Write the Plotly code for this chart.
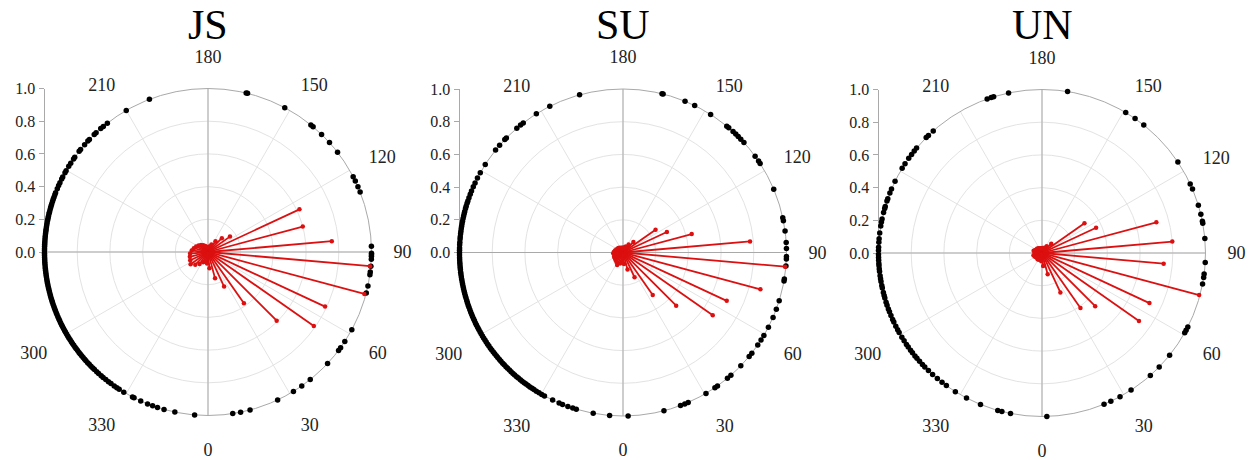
import plotly.graph_objects as go

# ---------------- data ----------------
PANELS = ["JS", "SU", "UN"]

ANG_TICKVALS = [0, 30, 60, 90, 120, 150, 180, 210, 240, 270, 300, 330]
ANG_TICKTEXT = ["0", "30", "60", "90", "120", "150", "180", "210", "", "", "300", "330"]
RAD_TICKVALS = [0.0, 0.2, 0.4, 0.6, 0.8, 1.0]
RAD_TICKTEXT = ["0.0", "0.2", "0.4", "0.6", "0.8", "1.0"]

# direction of each mean vector (deg)
VEC_THETA = [5, 15, 25, 35, 45, 55, 65, 75, 85, 95, 105, 115,
             125, 135, 145, 155, 165, 175, 185, 195, 205, 215, 225, 235,
             245, 255, 265, 275, 285, 295, 305, 315, 325, 335, 345, 355]

JS_VEC_R = [0.10, 0.167, 0.233, 0.383, 0.594, 0.79, 0.79, 0.99, 0.995, 0.76, 0.60, 0.617,
            0.164, 0.12, 0.08, 0.05, 0.035, 0.03, 0.03, 0.03, 0.04, 0.05, 0.06, 0.07,
            0.08, 0.09, 0.10, 0.11, 0.115, 0.12, 0.13, 0.11, 0.09, 0.07, 0.06, 0.07]

SU_VEC_R = [0.07, 0.107, 0.167, 0.317, 0.46, 0.67, 0.70, 0.87, 0.995, 0.78, 0.435, 0.296,
            0.243, 0.09, 0.06, 0.04, 0.03, 0.03, 0.025, 0.03, 0.03, 0.035, 0.04, 0.04,
            0.045, 0.05, 0.055, 0.06, 0.055, 0.06, 0.06, 0.065, 0.07, 0.085, 0.07, 0.06]

UN_VEC_R = [0.08, 0.134, 0.266, 0.41, 0.46, 0.724, 0.725, 0.995, 0.747, 0.80, 0.724, 0.365,
            0.317, 0.08, 0.05, 0.035, 0.03, 0.03, 0.025, 0.03, 0.03, 0.035, 0.04, 0.04,
            0.045, 0.053, 0.045, 0.043, 0.054, 0.05, 0.045, 0.04, 0.047, 0.045, 0.04, 0.05]

# phase angles of individual units (deg), all at r = 1
JS_DOTS = [8.7, 11.5, 14.9, 25.2, 31.5, 35.0, 38.7, 47.0, 53.0, 54.2, 56.8, 61.6,
           75.5, 78.0, 82.0, 83.0, 85.0, 87.5, 88.5, 89.0, 89.6, 92.0, 111.5, 113.5,
           115.7, 117.4, 127.6, 132.0, 136.0, 140.0, 141.0, 152.0, 166.0, 166.5, 201.0, 210.0,
           218.0, 219.8, 221.0, 223.2, 224.1, 226.5, 227.3, 229.0, 231.2, 232.0, 234.6, 235.3,
           237.1, 238.4, 240.2, 241.0, 242.7, 243.5, 244.9, 246.0, 247.2, 248.8, 249.5, 250.4,
           251.2, 252.0, 252.9, 253.6, 254.3, 255.1, 255.9, 256.6, 257.4, 258.1, 258.8, 259.7,
           260.5, 261.2, 262.0, 262.7, 263.5, 264.3, 265.0, 265.8, 266.6, 267.3, 268.0, 268.9,
           269.6, 270.4, 271.1, 271.9, 272.6, 273.4, 274.1, 274.9, 275.7, 276.4, 277.2, 278.0,
           278.7, 279.5, 280.3, 281.0, 281.8, 282.6, 283.3, 284.1, 284.9, 285.6, 286.4, 287.2,
           287.9, 288.7, 289.5, 290.2, 291.0, 291.8, 292.5, 293.3, 294.1, 294.8, 295.6, 296.4,
           297.1, 297.9, 298.7, 299.4, 300.2, 301.0, 301.7, 302.5, 303.3, 304.0, 304.8, 305.6,
           306.3, 307.1, 307.9, 308.6, 309.4, 310.2, 311.0, 311.7, 312.6, 313.4, 314.3, 315.2,
           316.0, 317.1, 318.0, 319.2, 320.1, 321.3, 322.5, 323.6, 325.0, 326.1, 327.1, 329.0,
           332.5, 333.1, 335.7, 338.3, 340.2, 342.0, 344.4, 348.3, 355.3]

SU_DOTS = [1.8, 14.5, 20.6, 22.2, 23.5, 30.5, 34.2, 35.3, 39.7, 41.3, 46.1, 50.5,
           52.0, 55.5, 57.6, 59.5, 62.8, 66.6, 69.7, 72.8, 80.0, 80.7, 85.3, 87.7,
           88.6, 91.4, 93.5, 97.6, 101.2, 102.3, 112.8, 123.0, 124.0, 126.1, 132.3, 133.9,
           135.2, 136.4, 137.7, 139.7, 140.6, 147.6, 154.0, 157.7, 165.8, 166.2, 195.4, 206.6,
           212.0, 217.6, 218.8, 220.5, 225.5, 226.3, 229.0, 231.2, 237.4, 240.8, 242.9, 244.8,
           246.3, 247.9, 249.1, 250.4, 251.6, 252.5, 253.6, 254.4, 255.5, 256.2, 257.1, 258.0,
           259.0, 259.9, 260.8, 261.6, 262.5, 263.4, 264.5, 265.3, 266.4, 267.3, 268.4, 269.2,
           270.1, 270.9, 271.8, 272.6, 273.5, 274.3, 275.2, 276.0, 276.9, 277.7, 278.6, 279.4,
           280.3, 281.1, 282.0, 282.8, 283.7, 284.5, 285.4, 286.2, 287.1, 287.9, 288.8, 289.6,
           290.5, 291.3, 292.2, 293.0, 293.9, 294.7, 295.6, 296.4, 297.3, 298.1, 299.0, 299.8,
           300.7, 301.5, 302.4, 303.2, 304.1, 304.9, 305.8, 306.6, 307.5, 308.3, 309.2, 310.0,
           310.9, 311.7, 312.6, 313.4, 314.3, 315.1, 316.0, 316.8, 317.7, 318.5, 319.4, 320.2,
           321.1, 321.9, 322.8, 323.6, 324.5, 325.3, 326.2, 327.0, 328.0, 329.1, 330.2, 331.3,
           334.5, 337.0, 338.3, 340.3, 342.1, 343.4, 349.5, 355.3]

UN_DOTS = [1.7, 22.3, 24.9, 28.5, 33.0, 41.5, 45.8, 51.3, 60.8, 61.8, 63.1, 79.1,
           81.4, 82.6, 86.7, 95.1, 100.5, 101.2, 103.7, 107.0, 113.0, 115.0, 123.8, 141.5,
           145.3, 149.2, 171.0, 191.8, 197.2, 198.1, 199.6, 221.7, 224.0, 225.1, 230.1, 231.4,
           232.9, 234.6, 236.9, 238.8, 244.0, 247.0, 248.5, 250.6, 251.5, 253.5, 254.2, 255.7,
           258.0, 259.1, 260.5, 263.0, 265.0, 266.2, 268.0, 269.1, 270.5, 271.6, 272.5, 273.7,
           274.5, 275.6, 276.5, 278.0, 279.1, 280.0, 281.5, 282.4, 284.0, 285.1, 286.0, 287.5,
           288.6, 290.0, 291.1, 292.5, 294.0, 295.0, 296.6, 298.0, 299.1, 301.0, 302.5, 304.0,
           305.1, 306.5, 307.6, 309.0, 310.1, 311.5, 313.0, 314.2, 316.0, 318.0, 320.2, 322.3,
           324.2, 328.0, 332.5, 337.9, 344.3, 345.8, 348.9]

VEC_R = {"JS": JS_VEC_R, "SU": SU_VEC_R, "UN": UN_VEC_R}
DOTS = {"JS": JS_DOTS, "SU": SU_DOTS, "UN": UN_DOTS}

# ---------------- layout geometry (pixels) ----------------
W, H = 1257, 460
CENTERS = [(208, 252), (623, 252.5), (1042, 253)]
RADIUS = 163.5

SERIF = "Liberation Serif"
RED = "#dc1010"
GRID = "#e3e3e3"
AXIS = "#a9a9a9"

fig = go.Figure()
layout = dict(
    template="none",
    width=W, height=H,
    margin=dict(l=0, r=0, t=0, b=0, pad=0, autoexpand=False),
    paper_bgcolor="white", plot_bgcolor="white",
    showlegend=False,
    annotations=[],
)

for i, name in enumerate(PANELS):
    cx, cy = CENTERS[i]
    pkey = "polar" if i == 0 else f"polar{i+1}"
    sub = pkey
    x0, x1 = (cx - RADIUS) / W, (cx + RADIUS) / W
    y0, y1 = (H - (cy + RADIUS)) / H, (H - (cy - RADIUS)) / H
    yc = (H - cy) / H

    # axis cross
    fig.add_trace(go.Scatterpolar(
        r=[1, 1, None, 1, 1], theta=[0, 180, None, 90, 270],
        mode="lines", line=dict(color=AXIS, width=1),
        subplot=sub, hoverinfo="skip", showlegend=False))

    # unit phase dots
    fig.add_trace(go.Scatterpolar(
        r=[1] * len(DOTS[name]), theta=DOTS[name], mode="markers",
        marker=dict(color="black", size=5.5, line=dict(width=0)), cliponaxis=False,
        subplot=sub, showlegend=False))

    # mean vectors
    rr, tt = [], []
    for th, r in zip(VEC_THETA, VEC_R[name]):
        rr += [0, r, None]
        tt += [th, th, None]
    fig.add_trace(go.Scatterpolar(
        r=rr, theta=tt, mode="lines", line=dict(color=RED, width=1.8),
        subplot=sub, hoverinfo="skip", showlegend=False))
    fig.add_trace(go.Scatterpolar(
        r=VEC_R[name], theta=VEC_THETA, mode="markers",
        marker=dict(color=RED, size=4.5, line=dict(width=0)), cliponaxis=False,
        subplot=sub, showlegend=False))

    layout[pkey] = dict(
        domain=dict(x=[x0, x1], y=[y0, y1]),
        bgcolor="white",
        angularaxis=dict(
            rotation=270, direction="counterclockwise",
            tickmode="array", tickvals=ANG_TICKVALS, ticktext=ANG_TICKTEXT,
            showgrid=True, gridcolor=GRID, gridwidth=1,
            showline=True, linecolor=AXIS, linewidth=1,
            ticks="outside", ticklen=18, tickcolor="rgba(0,0,0,0)",
            tickfont=dict(family=SERIF, size=18, color="#222222"),
            layer="below traces",
        ),
        radialaxis=dict(
            range=[0, 1], tickmode="array", tickvals=[0.2, 0.4, 0.6, 0.8, 1.0],
            showticklabels=False, showline=False, ticks="",
            showgrid=True, gridcolor=GRID, gridwidth=1,
            layer="below traces",
        ),
    )

    # linear radius scale on the left side
    xk = "xaxis" if i == 0 else f"xaxis{i+1}"
    yk = "yaxis" if i == 0 else f"yaxis{i+1}"
    xa = "x" if i == 0 else f"x{i+1}"
    ya = "y" if i == 0 else f"y{i+1}"
    fig.add_trace(go.Scatter(x=[None], y=[None], xaxis=xa, yaxis=ya,
                             hoverinfo="skip", showlegend=False))
    layout[xk] = dict(domain=[x0, x0 + 0.002], visible=False, range=[0, 1],
                      anchor=ya, automargin=False)
    layout[yk] = dict(
        domain=[yc, y1], range=[0, 1], anchor=xa, automargin=False,
        tickmode="array", tickvals=RAD_TICKVALS, ticktext=RAD_TICKTEXT,
        showline=True, linecolor=AXIS, linewidth=1,
        ticks="outside", ticklen=5, tickcolor=AXIS,
        showgrid=False, zeroline=False, layer="below traces",
        tickfont=dict(family=SERIF, size=16, color="#222222"),
    )

    layout["annotations"].append(dict(
        text=name, x=cx / W, y=(H - 25) / H, xref="paper", yref="paper",
        xanchor="center", yanchor="middle", showarrow=False,
        font=dict(family=SERIF, size=42, color="black")))

fig.update_layout(**layout)
fig.write_html(
    "out.html",
    config={"displayModeBar": False, "staticPlot": True},
    post_script="document.body.style.margin='0';document.body.style.overflow='hidden';",
)
